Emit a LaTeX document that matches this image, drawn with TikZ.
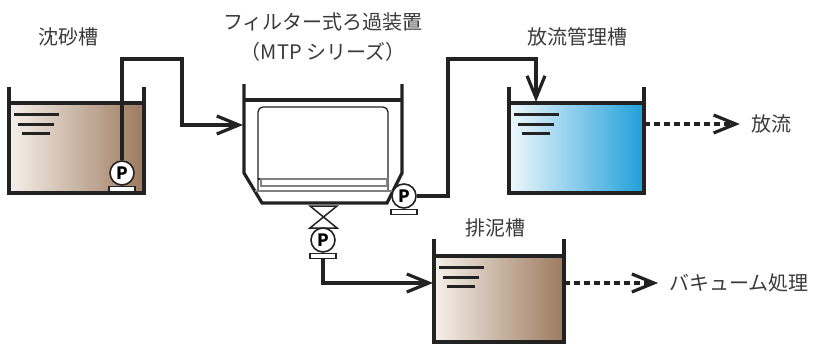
\documentclass[tikz,border=0pt]{standalone}
\usepackage{fontspec}
\setmainfont{Noto Sans CJK JP}
\usepackage{tikz}
\usetikzlibrary{arrows.meta,positioning}

\definecolor{mud}{HTML}{9C7A5E}
\definecolor{mudmid}{HTML}{C4A690}
\definecolor{mudlight}{HTML}{F6F0EA}
\definecolor{aqua}{HTML}{1F9FD9}
\definecolor{aquamid}{HTML}{5EC4EA}
\definecolor{aqualight}{HTML}{F0F8FC}
\definecolor{ink}{HTML}{222222}
\definecolor{txt}{HTML}{3A3A3A}

\tikzset{
  wall/.style={ink, line width=3.2pt},
  pipe/.style={ink, line width=3.2pt, line join=miter},
  flow/.style={pipe, -{Straight Barb[length=22pt,width=18pt]}},
  drain/.style={flow, dash pattern=on 6pt off 4pt, shorten >=11pt},
  pump/.style={circle, draw=ink, line width=1.6pt, fill=white, minimum size=24pt,
    inner sep=0pt, font=\bfseries\fontsize{17}{17}\selectfont},
  pumpbase/.style={rectangle, draw=ink, line width=1.4pt, fill=white,
    minimum width=26pt, minimum height=5pt, inner sep=0pt},
  tanklabel/.style={text=txt, inner sep=0pt, align=center,
    font=\fontsize{20}{30}\selectfont},
  level/.style={ink, line width=3pt},
}

% tank: left x, right x, wall top, water top, bottom, shading
\newcommand{\tank}[6]{%
  \shade[#6] (#1,#4) rectangle (#2,#5);
  \draw[wall] (#1,#3) -- (#1,#5) -- (#2,#5) -- (#2,#3);
  \draw[wall] (#1,#4) -- (#2,#4);
  \draw[level] ({#1+5},{#4+11}) -- ({#1+50},{#4+11});
  \draw[level] ({#1+9},{#4+21}) -- ({#1+45},{#4+21});
  \draw[level] ({#1+13},{#4+30}) -- ({#1+41},{#4+30});
}

\begin{document}
\begin{tikzpicture}[x=1pt,y=-1pt]
\useasboundingbox (0,0) rectangle (837,345);

% tanks
\tank{9}{144}{87}{103}{193}{left color=mudlight, middle color=mudmid, right color=mud}
\tank{509}{644}{87}{103}{193}{left color=aqualight, middle color=aquamid, right color=aqua}
\tank{434}{564}{239}{256}{342}{left color=mudlight, middle color=mudmid, right color=mud}

% filter unit
\draw[wall, line join=miter] (244,84) -- (244,173) -- (262,203) -- (387,203) -- (402,173) -- (402,84);
\draw[wall] (244,100) -- (402,100);
\draw[ink, line width=1.3pt, rounded corners=5pt] (258,191) -- (258,107) -- (388,107) -- (388,191);
\draw[ink, line width=1.3pt] (258,179) -- (388,179);
\draw[gray, line width=1.1pt] (261,179) rectangle (387,186);
\draw[gray, line width=1.1pt] (255,191) -- (393,191);

% valve
\draw[ink, line width=1.5pt, fill=white] (310,206) -- (337,206) -- (310,228) -- (337,228) -- cycle;

% pumps
\node[pump] (p1) at (122,173) {P};
\node[pumpbase, below=0pt of p1] (b1) {};
\node[pump] (p2) at (404,196) {P};
\node[pumpbase, below=0pt of p2] (b2) {};
\node[pump] (p3) at (323,240) {P};
\node[pumpbase, below=0pt of p3] (b3) {};

% ports
\coordinate (fin) at (243,125);
\coordinate (t3in) at (536,102);
\coordinate (t3out) at (644,124);
\coordinate (t4in) at (433,283);
\coordinate (t4out) at (564,283);

% labels
\node[tanklabel] (l1) at (68,37) {沈砂槽};
\node[tanklabel] (l2) at (323,37) {フィルター式ろ過装置\\（MTP シリーズ）};
\node[tanklabel] (l3) at (577,37) {放流管理槽};
\node[tanklabel] (l4) at (495,228) {排泥槽};
\node[tanklabel] (out1) at (771,124) {放流};
\node[tanklabel] (out2) at (739,283) {バキューム処理};

% pipes
\draw[flow] (p1.north) |- (182,59) |- (fin);
\draw[flow] (p2.east) -| (448,59) -| (t3in);
\draw[flow] (b3.south) |- (t4in);
\draw[drain] (t3out) -- (out1);
\draw[drain] (t4out) -- (out2);
\end{tikzpicture}
\end{document}
